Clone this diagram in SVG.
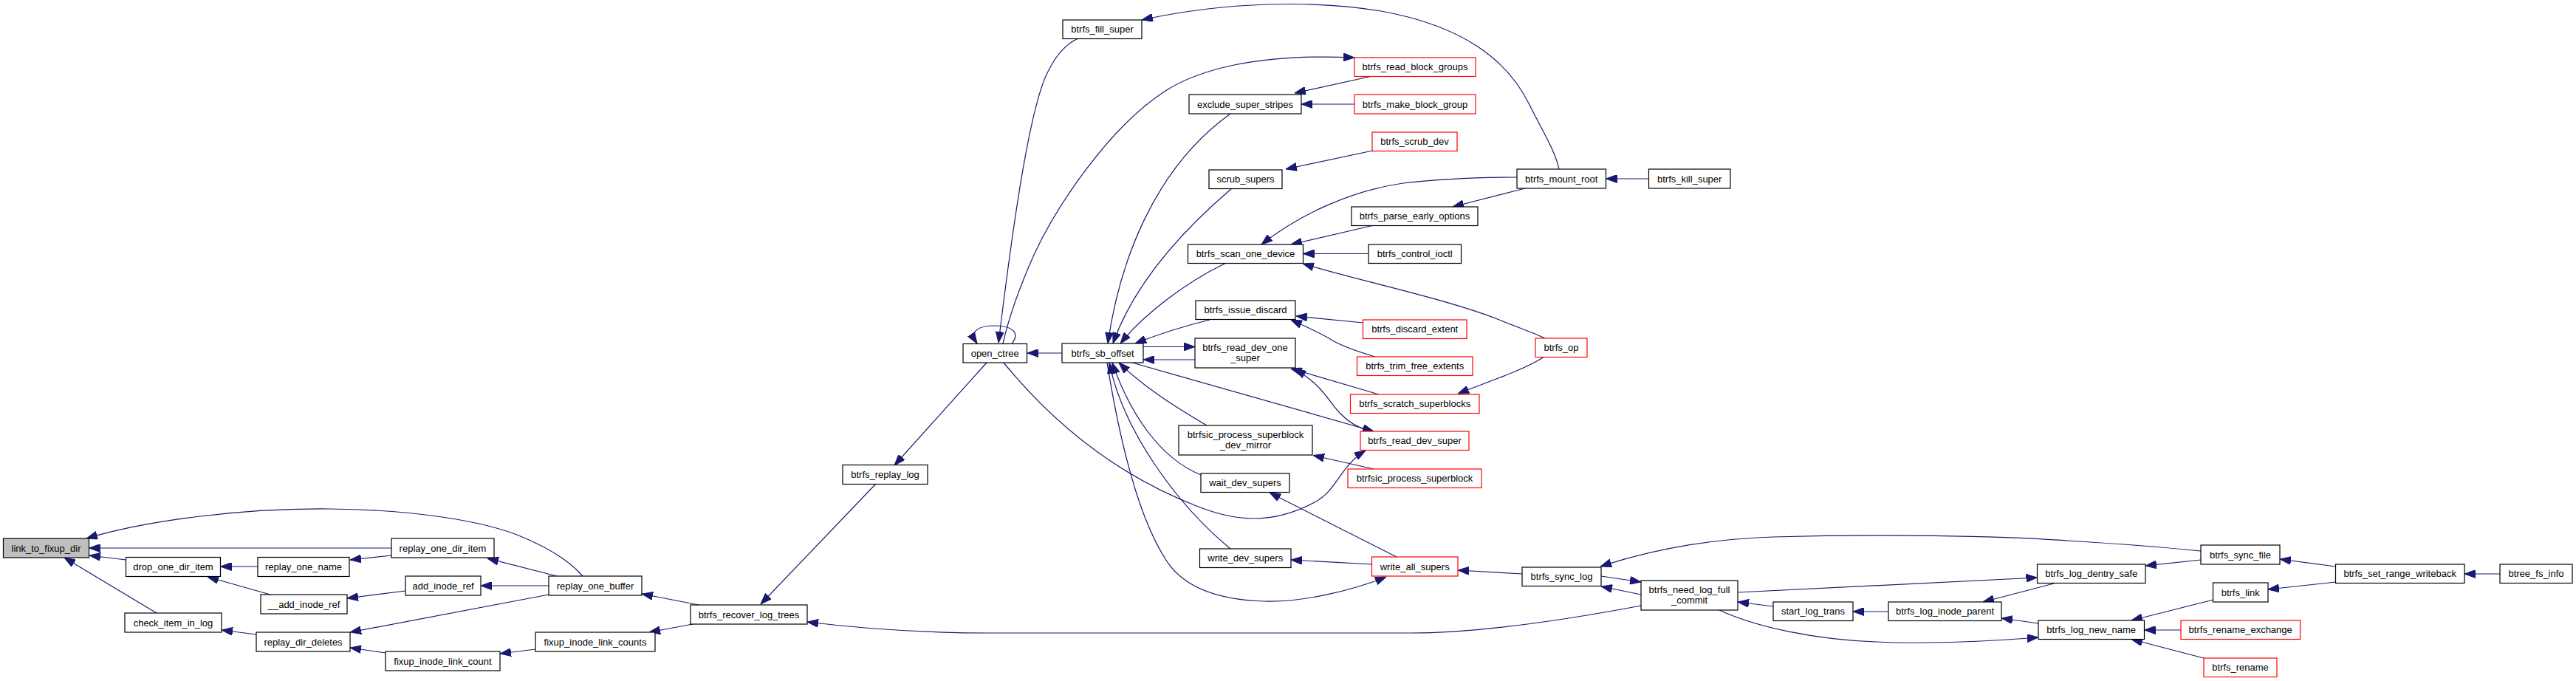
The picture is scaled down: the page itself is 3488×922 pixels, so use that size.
<svg xmlns="http://www.w3.org/2000/svg" width="3488" height="922" viewBox="0 0 3488 922">
<style>
.node rect{fill:#ffffff;stroke:#000000;stroke-width:1.2}
.node.red rect{stroke:#ff0000}
.node.cur rect{fill:#bfbfbf}
.node text{font-family:"Liberation Sans",Arial,Helvetica,sans-serif;font-size:13px;fill:#000000;text-anchor:middle}
#edges path{fill:none;stroke:#191970;stroke-width:1.2;marker-start:url(#ah)}
</style>
<defs>
<marker id="ah" markerUnits="userSpaceOnUse" viewBox="0 0 15 11" markerWidth="15" markerHeight="11" refX="15" refY="5.5" orient="auto-start-reverse">
<path d="M0,0 L15,5.5 L0,11 Z" fill="#191970" stroke="#191970" stroke-width="1"/>
</marker>
</defs>
<rect x="0" y="0" width="3488" height="922" fill="#ffffff"/>
<g id="edges">
<path d="M117,729 C200,704 330,688 446,689 C560,690 650,705 700,724 C740,740 770,758 789,780"/>
<path d="M120.5,742 L530,742"/>
<path d="M121,752 L170.5,758"/>
<path d="M87,755 L212,830"/>
<path d="M298.5,767 L349,767"/>
<path d="M281,781 L366,805"/>
<path d="M474,758 L530,752"/>
<path d="M470,810 L549,800"/>
<path d="M651,793 L743,793"/>
<path d="M660,756 L754,780"/>
<path d="M300,853 L347,859"/>
<path d="M474,856 L743,805"/>
<path d="M474,877 L522,884"/>
<path d="M677,885 L725,879"/>
<path d="M869,804 L946,819"/>
<path d="M879,856 L943,844"/>
<path d="M1093,842 C1190,854 1270,857 1340,857 L1910,857 C1990,857 2100,843 2222,820"/>
<path d="M1030,818 L1186,655"/>
<path d="M1211,630 L1336,491"/>
<path d="M1323,465 C1312,448 1325,441 1347,441 C1370,441 1382,450 1370,465.5"/>
<path d="M1352,464 C1372,300 1395,140 1420,95 C1430,75 1442,60 1460,52"/>
<path d="M1391,478 L1438,478"/>
<path d="M1834,78 C1700,72 1620,95 1575,125 C1500,175 1430,280 1400,345 C1380,390 1366,430 1358,465"/>
<path d="M1753,126 L1858,103"/>
<path d="M1762,141 L1834,141"/>
<path d="M1741,229 L1858.5,204"/>
<path d="M1500,465 C1515,360 1560,230 1666,154"/>
<path d="M1507,465 C1530,400 1580,330 1668,255"/>
<path d="M1517,465 C1545,430 1600,385 1660,356"/>
<path d="M1537,465 C1570,452 1605,441 1638,433"/>
<path d="M1548,487 L1618,487"/>
<path d="M1618,469.5 L1548,469.5"/>
<path d="M1860,584 L1533,491"/>
<path d="M1748,499 L1867,534"/>
<path d="M1753,500 C1790,520 1800,545 1815,560 C1828,574 1842,580 1855,584"/>
<path d="M1515,491 C1550,525 1590,550 1634,576"/>
<path d="M1506,491 C1530,560 1570,620 1626,643"/>
<path d="M1502,491 C1520,580 1590,680 1666,743"/>
<path d="M1877,781 C1830,800 1760,816 1712,814 C1640,812 1600,790 1580,760 C1540,700 1515,590 1499,491"/>
<path d="M1849,610 C1815,630 1810,665 1780,680 C1720,712 1670,705 1620,685 C1530,650 1440,590 1359,491"/>
<path d="M1546,27 C1660,2 1780,0 1870,15 C1980,35 2040,80 2070,140 C2090,180 2106,205 2111,229"/>
<path d="M2174.5,242 L2232.5,242"/>
<path d="M1967,280 L2065,255"/>
<path d="M1708,331 C1760,290 1830,258 1900,248 C1960,241 2010,240 2054,240"/>
<path d="M1748,331 L1858,305.5"/>
<path d="M1764.5,343.5 L1853,343.5"/>
<path d="M1764,357 C1840,380 1960,405 2030,433 C2060,445 2080,452 2092,458"/>
<path d="M1755,428 L1846,437"/>
<path d="M1748,433 C1775,445 1795,455 1806,462 C1825,472 1845,478 1862,483"/>
<path d="M1974,533 C2020,515 2065,500 2090,483.5"/>
<path d="M1778,616.5 L1860,635"/>
<path d="M1719,667 L1891,754"/>
<path d="M1748,758 L1857.5,764"/>
<path d="M1974,772 L2061,777"/>
<path d="M2167,767 C2230,746 2310,730 2400,727 C2550,723 2700,725 2800,732 C2880,737 2940,742 2980,746"/>
<path d="M2222,788 L2168,780"/>
<path d="M2168,794 L2222,805"/>
<path d="M2758.5,782 L2353,802"/>
<path d="M2353,815 L2401,821"/>
<path d="M2509,828 L2557,828"/>
<path d="M2685,815 L2781,790"/>
<path d="M2710,837 L2760,844"/>
<path d="M2760,863 C2680,869 2600,872 2540,869 C2460,866 2380,850 2328,826"/>
<path d="M2905,766 L2980,758"/>
<path d="M3087,757 L3162.5,767"/>
<path d="M3337,777 L3385,777"/>
<path d="M3071,798 L3162.5,788"/>
<path d="M2886,840 L2997,812"/>
<path d="M2903.5,853 L2953,853"/>
<path d="M2886,865.5 L2984,891"/>
</g>
<g id="n1" class="node cur"><rect x="4.5" y="729" width="116" height="26"/><text x="62.5" y="746.5">link_to_fixup_dir</text></g>
<g id="n2" class="node"><rect x="170.5" y="754.5" width="128" height="26"/><text x="234.5" y="772">drop_one_dir_item</text></g>
<g id="n3" class="node"><rect x="349" y="754.5" width="124" height="26"/><text x="411" y="772">replay_one_name</text></g>
<g id="n4" class="node"><rect x="530" y="729" width="139" height="26"/><text x="599.5" y="746.5">replay_one_dir_item</text></g>
<g id="n5" class="node"><rect x="353" y="805" width="117" height="26"/><text x="411.5" y="822.5">__add_inode_ref</text></g>
<g id="n6" class="node"><rect x="549" y="780" width="102" height="26"/><text x="600" y="797.5">add_inode_ref</text></g>
<g id="n7" class="node"><rect x="169" y="830" width="131" height="26"/><text x="234.5" y="847.5">check_item_in_log</text></g>
<g id="n8" class="node"><rect x="347" y="856" width="127" height="26"/><text x="410.5" y="873.5">replay_dir_deletes</text></g>
<g id="n9" class="node"><rect x="522" y="882" width="155" height="26"/><text x="599.5" y="899.5">fixup_inode_link_count</text></g>
<g id="n10" class="node"><rect x="1304" y="465.5" width="86.5" height="25.5"/><text x="1347.2" y="482.8">open_ctree</text></g>
<g id="n11" class="node"><rect x="1141" y="629.5" width="115" height="26"/><text x="1198.5" y="647">btrfs_replay_log</text></g>
<g id="n12" class="node"><rect x="743" y="780" width="126" height="26"/><text x="806" y="797.5">replay_one_buffer</text></g>
<g id="n13" class="node"><rect x="935" y="819" width="158" height="26"/><text x="1014" y="836.5">btrfs_recover_log_trees</text></g>
<g id="n14" class="node"><rect x="725" y="856" width="162" height="26"/><text x="806" y="873.5">fixup_inode_link_counts</text></g>
<g id="n15" class="node"><rect x="1439" y="27" width="107" height="25.5"/><text x="1492.5" y="44.3">btrfs_fill_super</text></g>
<g id="n16" class="node red"><rect x="1834" y="78" width="164" height="25.5"/><text x="1916" y="95.3">btrfs_read_block_groups</text></g>
<g id="n17" class="node"><rect x="1610" y="128" width="152" height="26"/><text x="1686" y="145.5">exclude_super_stripes</text></g>
<g id="n18" class="node red"><rect x="1834" y="128" width="164" height="26"/><text x="1916" y="145.5">btrfs_make_block_group</text></g>
<g id="n19" class="node red"><rect x="1858" y="179" width="115" height="25.5"/><text x="1915.5" y="196.3">btrfs_scrub_dev</text></g>
<g id="n20" class="node"><rect x="1637" y="230" width="99" height="25.5"/><text x="1686.5" y="247.3">scrub_supers</text></g>
<g id="n21" class="node"><rect x="1830" y="280" width="171" height="25.5"/><text x="1915.5" y="297.3">btrfs_parse_early_options</text></g>
<g id="n22" class="node"><rect x="1608.5" y="331" width="156" height="25.5"/><text x="1686.5" y="348.3">btrfs_scan_one_device</text></g>
<g id="n23" class="node"><rect x="1853" y="331" width="125.5" height="25.5"/><text x="1915.7" y="348.3">btrfs_control_ioctl</text></g>
<g id="n24" class="node"><rect x="1619" y="407" width="135" height="25.5"/><text x="1686.5" y="424.3">btrfs_issue_discard</text></g>
<g id="n25" class="node red"><rect x="1845.5" y="433" width="140.5" height="25.5"/><text x="1915.7" y="450.3">btrfs_discard_extent</text></g>
<g id="n26" class="node"><rect x="1618" y="458" width="136" height="40"/><text x="1686" y="474.5">btrfs_read_dev_one</text><text x="1686" y="489">_super</text></g>
<g id="n27" class="node"><rect x="1438" y="465" width="110" height="26"/><text x="1493" y="482.5">btrfs_sb_offset</text></g>
<g id="n28" class="node red"><rect x="1837.5" y="483" width="156.5" height="25.5"/><text x="1915.7" y="500.3">btrfs_trim_free_extents</text></g>
<g id="n29" class="node red"><rect x="1828.5" y="534" width="174.5" height="25.5"/><text x="1915.7" y="551.3">btrfs_scratch_superblocks</text></g>
<g id="n30" class="node"><rect x="1596" y="576" width="181" height="40"/><text x="1686.5" y="592.5">btrfsic_process_superblock</text><text x="1686.5" y="607">_dev_mirror</text></g>
<g id="n31" class="node red"><rect x="1842" y="584" width="147" height="25.5"/><text x="1915.5" y="601.3">btrfs_read_dev_super</text></g>
<g id="n32" class="node red"><rect x="1825" y="635" width="181" height="25.5"/><text x="1915.5" y="652.3">btrfsic_process_superblock</text></g>
<g id="n33" class="node"><rect x="1626" y="641" width="120" height="25.5"/><text x="1686" y="658.3">wait_dev_supers</text></g>
<g id="n34" class="node"><rect x="1624.5" y="743" width="123.5" height="25.5"/><text x="1686.2" y="760.3">write_dev_supers</text></g>
<g id="n35" class="node red"><rect x="1857.5" y="754" width="116.5" height="26"/><text x="1915.7" y="771.5">write_all_supers</text></g>
<g id="n36" class="node"><rect x="2054" y="229" width="120.5" height="26"/><text x="2114.2" y="246.5">btrfs_mount_root</text></g>
<g id="n37" class="node"><rect x="2232.5" y="229" width="110.5" height="26"/><text x="2287.7" y="246.5">btrfs_kill_super</text></g>
<g id="n38" class="node red"><rect x="2079" y="458" width="70" height="25.5"/><text x="2114" y="475.3">btrfs_op</text></g>
<g id="n39" class="node"><rect x="2061" y="768" width="107" height="25.5"/><text x="2114.5" y="785.3">btrfs_sync_log</text></g>
<g id="n40" class="node"><rect x="2222" y="786" width="131" height="40"/><text x="2287.5" y="802.5">btrfs_need_log_full</text><text x="2287.5" y="817">_commit</text></g>
<g id="n41" class="node"><rect x="2401" y="815" width="108" height="25.5"/><text x="2455" y="832.3">start_log_trans</text></g>
<g id="n42" class="node"><rect x="2557" y="815" width="153" height="25.5"/><text x="2633.5" y="832.3">btrfs_log_inode_parent</text></g>
<g id="n43" class="node"><rect x="2758.5" y="764" width="146.5" height="25.5"/><text x="2831.7" y="781.3">btrfs_log_dentry_safe</text></g>
<g id="n44" class="node"><rect x="2760" y="840" width="143.5" height="25.5"/><text x="2831.7" y="857.3">btrfs_log_new_name</text></g>
<g id="n45" class="node"><rect x="2980" y="738" width="107" height="26"/><text x="3033.5" y="755.5">btrfs_sync_file</text></g>
<g id="n46" class="node"><rect x="3162.5" y="764" width="174.5" height="25.5"/><text x="3249.7" y="781.3">btrfs_set_range_writeback</text></g>
<g id="n47" class="node"><rect x="3385" y="764" width="98" height="25.5"/><text x="3434" y="781.3">btree_fs_info</text></g>
<g id="n48" class="node"><rect x="2996.5" y="789" width="74.5" height="26"/><text x="3033.7" y="806.5">btrfs_link</text></g>
<g id="n49" class="node red"><rect x="2953" y="840" width="161.5" height="25.5"/><text x="3033.7" y="857.3">btrfs_rename_exchange</text></g>
<g id="n50" class="node red"><rect x="2984" y="891" width="99" height="25.5"/><text x="3033.5" y="908.3">btrfs_rename</text></g>
</svg>
